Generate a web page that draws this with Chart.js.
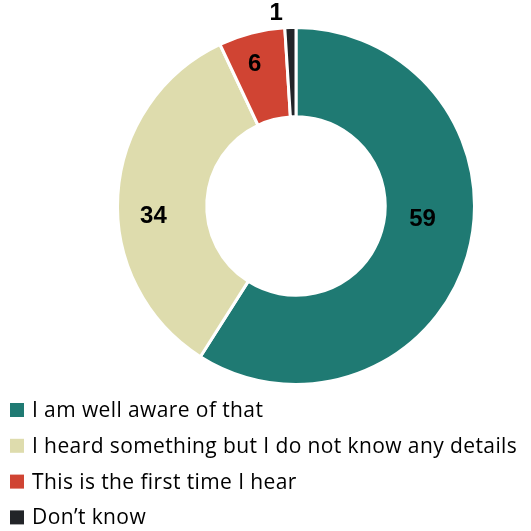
<!DOCTYPE html>
<html>
<head>
<meta charset="utf-8">
<script src="https://cdn.jsdelivr.net/npm/chart.js@4"></script>
<style>
  html, body { margin: 0; padding: 0; background: #fff; }
  #wrap { width: 531px; height: 531px; position: relative; }
</style>
</head>
<body>
<div id="wrap"><canvas id="myChart" width="531" height="531"></canvas></div>
<script>
const categories = [
  'I am well aware of that',
  'I heard something but I do not know any details',
  'This is the first time I hear',
  'Don\u2019t know',
];
const values = [59, 34, 6, 1];
const colors = ['#1f7a73', '#dedcad', '#d04433', '#222428'];

// Excel-ish label placement tweaks (px), small slices go outside
const labelNudge = [[-2, -24], [-9, 19], [-8, -12], [0, 0]];

const valueLabels = {
  id: 'valueLabels',
  afterDatasetsDraw(chart) {
    const ctx = chart.ctx;
    const meta = chart.getDatasetMeta(0);
    const total = values.reduce((a, b) => a + b, 0);
    ctx.save();
    ctx.font = 'bold 24px "Liberation Sans", Arial, sans-serif';
    ctx.fillStyle = '#000';
    ctx.textBaseline = 'middle';
    meta.data.forEach((arc, i) => {
      const { x, y, startAngle, endAngle, innerRadius, outerRadius } = arc.getProps(
        ['x', 'y', 'startAngle', 'endAngle', 'innerRadius', 'outerRadius'], true);
      const mid = (startAngle + endAngle) / 2;
      if (values[i] / total < 0.03) {
        const r = outerRadius + 14;
        ctx.textAlign = 'right';
        ctx.fillText(String(values[i]), x + Math.cos(mid) * r - 7, y + Math.sin(mid) * r);
      } else {
        const r = (innerRadius + outerRadius) / 2;
        ctx.textAlign = 'center';
        ctx.fillText(String(values[i]),
          x + Math.cos(mid) * r + labelNudge[i][0],
          y + Math.sin(mid) * r + labelNudge[i][1]);
      }
    });
    ctx.restore();
  },
};

const listLegend = {
  id: 'listLegend',
  afterDraw(chart) {
    const ctx = chart.ctx;
    ctx.save();
    ctx.font = '21px "Open Sans", sans-serif';
    ctx.letterSpacing = '0.4px';
    ctx.textBaseline = 'middle';
    ctx.textAlign = 'left';
    chart.data.labels.forEach((lab, i) => {
      const cy = 410 + i * 35.8;
      ctx.fillStyle = colors[i];
      ctx.fillRect(10, cy - 7, 14, 14);
      ctx.fillStyle = '#000';
      ctx.fillText(lab, 32, cy + 1);
    });
    ctx.restore();
  },
};

new Chart(document.getElementById('myChart'), {
  type: 'doughnut',
  data: {
    labels: categories,
    datasets: [
      {
        data: values,
        backgroundColor: colors,
        borderColor: '#fff',
        borderWidth: 3,
      },
    ],
  },
  options: {
    responsive: false,
    animation: false,
    cutout: '50%',
    layout: {
      padding: { top: 26, bottom: 145, left: 116, right: 55 },
    },
    plugins: {
      legend: { display: false },
      tooltip: { enabled: false },
    },
  },
  plugins: [valueLabels, listLegend],
});
</script>
</body>
</html>
